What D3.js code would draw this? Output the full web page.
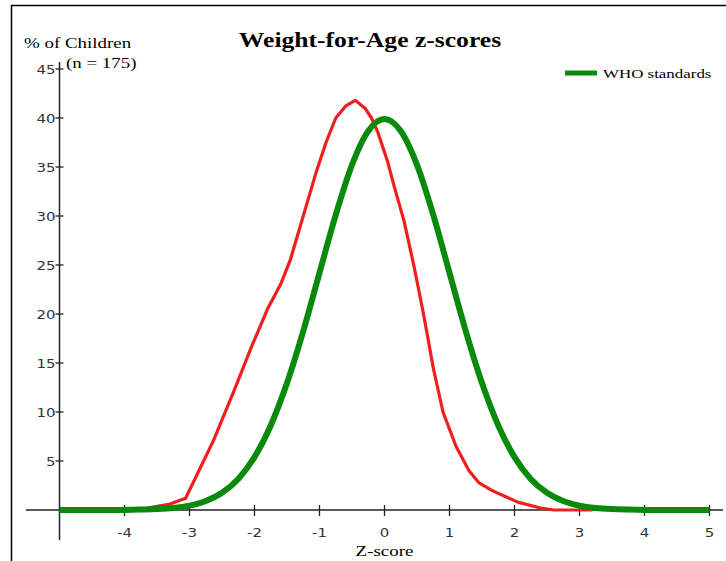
<!DOCTYPE html>
<html lang="en">
<head>
  <meta charset="utf-8">
  <script src="https://d3js.org/d3.v7.min.js"></script>
  <style>
    body { margin: 0; background: #fff; }
    svg { display: block; }
  </style>
</head>
<body>
  <div id='chart'></div>
  <script>
  const width = 726
  const height = 561

  // sample curve (z-score, % of children)
  const sampleZ = [-3.65, -3.3, -3.06, -2.63, -2.3, -2.05, -1.8, -1.6, -1.45, -1.25, -1.05, -0.9, -0.75, -0.6, -0.45,
                   -0.3, -0.2, -0.1, 0.05, 0.15, 0.3, 0.45, 0.6, 0.75, 0.9, 1.1, 1.3, 1.45, 1.65, 1.85, 2.05, 2.4, 2.6, 3.2]
  const samplePct = [0.2, 0.6, 1.2, 7.1, 12.4, 16.6, 20.5, 23, 25.5, 30, 34.5, 37.5, 40, 41.2, 41.8,
                     41, 40, 38.5, 35.5, 33, 29.5, 25, 20, 14.5, 10, 6.5, 4.0, 2.8, 2.0, 1.4, 0.8, 0.2, 0, 0]

  // WHO standards curve
  const whoZ = [-5, -4.5, -4, -3.75, -3.5, -3.25, -3, -2.75, -2.5, -2.25, -2, -1.75, -1.5, -1.25, -1, -0.75, -0.5, -0.25, 0,
                0.25, 0.5, 0.75, 1, 1.25, 1.5, 1.75, 2, 2.25, 2.5, 2.75, 3, 3.25, 3.5, 3.75, 4, 4.5, 5]
  const whoPct = [0, 0, 0.01, 0.04, 0.09, 0.2, 0.44, 0.91, 1.75, 3.17, 5.4, 8.63, 12.95, 18.26, 24.2, 30.11, 35.21, 38.67, 39.89,
                  38.67, 35.21, 30.11, 24.2, 18.26, 12.95, 8.63, 5.4, 3.17, 1.75, 0.91, 0.44, 0.2, 0.09, 0.04, 0.01, 0, 0]

  const xTicks = [-4, -3, -2, -1, 0, 1, 2, 3, 4, 5]
  const yTicks = [5, 10, 15, 20, 25, 30, 35, 40, 45]

  const serif = "'Liberation Serif', 'Times New Roman', serif"
  const sans = "'DejaVu Sans', Verdana, sans-serif"

  const svg = d3.select('#chart').append('svg')
      .attr('width', width)
      .attr('height', height)

  // the original picture is stretched sideways, so widen the text the same way
  function stretch(sel, k) {
    sel.each(function () {
      const w = this.getComputedTextLength()
      d3.select(this).attr('textLength', w * k).attr('lengthAdjust', 'spacingAndGlyphs')
    })
  }

  // frame of the picture
  svg.append('rect')
      .attr('x', 11.5).attr('y', 5.5)
      .attr('width', width + 20).attr('height', height + 20)
      .attr('fill', 'none').attr('stroke', '#000').attr('stroke-width', 1.5)

  const x = d3.scaleLinear().domain([-5, 5]).range([59.5, 709.5])
  const y = d3.scaleLinear().domain([0, 45]).range([510, 69])

  ////////////////////////////// axes //////////////////////////////
  const ax = svg.append('g')

  ax.append('line')
      .attr('x1', 26).attr('x2', 723)
      .attr('y1', y(0)).attr('y2', y(0))
      .attr('stroke', '#222').attr('stroke-width', 1.5)
  ax.append('line')
      .attr('x1', x(-5)).attr('x2', x(-5))
      .attr('y1', 62).attr('y2', 540)
      .attr('stroke', '#222').attr('stroke-width', 1.5)

  ax.selectAll('.xt').data(xTicks).enter().append('line')
      .attr('x1', d => x(d)).attr('x2', d => x(d))
      .attr('y1', y(0) - 5).attr('y2', y(0) + 6)
      .attr('stroke', '#222').attr('stroke-width', 1.3)
  ax.selectAll('.xl').data(xTicks).enter().append('text')
      .attr('x', d => x(d)).attr('y', 537)
      .attr('text-anchor', 'middle')
      .style('font-family', sans).style('font-size', '13px').style('fill', '#333')
      .text(d => d)
      .call(stretch, 1.15)

  ax.selectAll('.yt').data(yTicks).enter().append('line')
      .attr('x1', x(-5) - 4).attr('x2', x(-5) + 4)
      .attr('y1', d => y(d)).attr('y2', d => y(d))
      .attr('stroke', '#222').attr('stroke-width', 1.3)
  ax.selectAll('.yl').data(yTicks).enter().append('text')
      .attr('x', x(-5) - 4).attr('y', d => y(d) + 5)
      .attr('text-anchor', 'end')
      .style('font-family', sans).style('font-size', '13px').style('fill', '#333')
      .text(d => d)
      .call(stretch, 1.15)

  ////////////////////////////// curves //////////////////////////////
  const line = d3.line().x(d => x(d[0])).y(d => y(d[1]))

  svg.append('path')
      .datum(d3.zip(sampleZ, samplePct))
      .attr('d', line)
      .attr('fill', 'none').attr('stroke', '#f01e1e').attr('stroke-width', 3.2)
      .attr('stroke-linejoin', 'round')

  svg.append('path')
      .datum(d3.zip(whoZ, whoPct))
      .attr('d', line.curve(d3.curveMonotoneX))
      .attr('fill', 'none').attr('stroke', '#0a8a0a').attr('stroke-width', 6)
      .attr('stroke-linejoin', 'round')

  ////////////////////////////// texts //////////////////////////////
  svg.append('text')
      .attr('x', 370).attr('y', 47)
      .attr('text-anchor', 'middle')
      .style('font-family', serif).style('font-size', '20px').style('font-weight', 'bold')
      .text('Weight-for-Age z-scores')
      .call(stretch, 1.28)

  svg.append('text')
      .attr('x', 24).attr('y', 48)
      .style('font-family', serif).style('font-size', '14px')
      .text('% of Children')
      .call(stretch, 1.35)

  svg.append('text')
      .attr('x', 66).attr('y', 68)
      .style('font-family', serif).style('font-size', '14px')
      .text('(n = 175)')
      .call(stretch, 1.35)

  svg.append('text')
      .attr('x', x(0)).attr('y', 556)
      .attr('text-anchor', 'middle')
      .style('font-family', serif).style('font-size', '14px')
      .text('Z-score')
      .call(stretch, 1.35)

  // legend
  svg.append('line')
      .attr('x1', 565).attr('x2', 597)
      .attr('y1', 73).attr('y2', 73)
      .attr('stroke', '#0a8a0a').attr('stroke-width', 5)
  svg.append('text')
      .attr('x', 603).attr('y', 78)
      .style('font-family', serif).style('font-size', '13px')
      .text('WHO standards')
      .call(stretch, 1.3)
  </script>
</body>
</html>
